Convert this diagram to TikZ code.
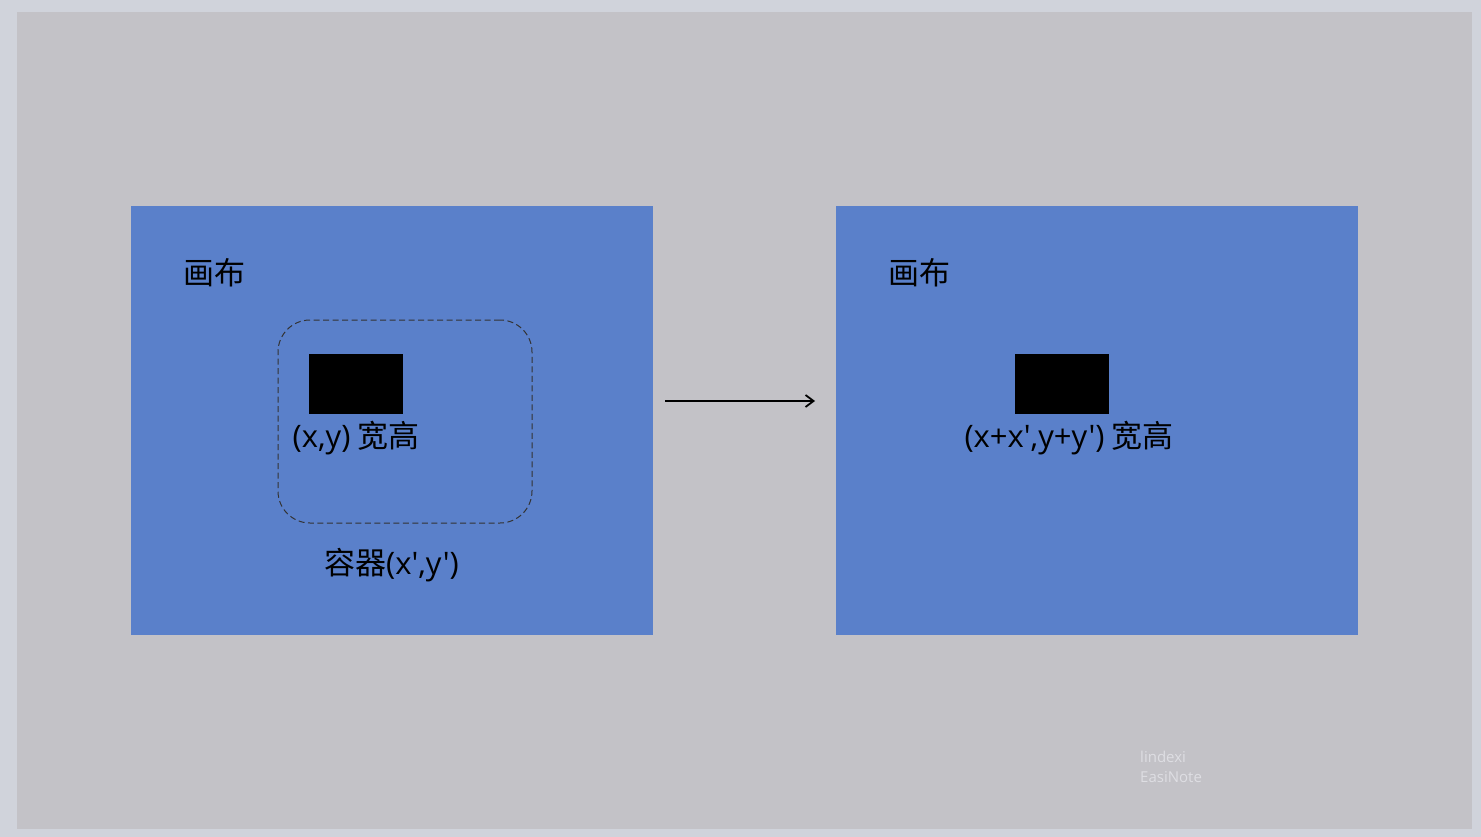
\documentclass[tikz,border=0pt]{standalone}
\usepackage{fontspec}
\setmainfont{Noto Sans CJK SC}
\newfontfamily\cjkf{Noto Sans CJK SC}
\newfontfamily\latf{Open Sans}
\usetikzlibrary{arrows.meta}
\definecolor{outerbg}{HTML}{D0D3DB}
\definecolor{panel}{HTML}{C3C2C7}
\definecolor{canvasblue}{HTML}{5A80CA}
\definecolor{wm}{HTML}{DEDEE3}
\newcommand{\latpart}[1]{{\latf\fontsize{31}{36}\selectfont #1}}
\tikzset{
  canvasbox/.style={fill=canvasblue, draw=none, minimum width=522pt, minimum height=429pt, inner sep=0pt},
  blackbox/.style={fill=black, draw=none, minimum width=94pt, minimum height=60pt, inner sep=0pt},
  lbl/.style={font=\cjkf\fontsize{31}{36}\selectfont, text=black, inner sep=0pt},
  wmtext/.style={font=\latf\fontsize{15}{20}\selectfont, text=wm, inner sep=0pt, anchor=west},
  container/.style={draw=black!80, dash pattern=on 6pt off 3.5pt, line width=1pt, rounded corners=32pt, minimum width=254pt, minimum height=203pt, inner sep=0pt},
  conn/.style={line width=1.8pt, -{Straight Barb[length=8pt, width=12pt]}}
}
\begin{document}
\begin{tikzpicture}[x=1pt, y=-1pt]
\useasboundingbox (0,0) rectangle (1481,837);
\fill[outerbg] (0,0) rectangle (1481,837);
\fill[panel] (17,12) rectangle (1472,829);
\node[canvasbox] (c1) at (392,420.5) {};
\node[canvasbox] (c2) at (1097,420.5) {};
\node[lbl] (t1) at (214.5,272.5) {画布};
\node[lbl] (t2) at (919.5,272.5) {画布};
\node[container] (ct) at (405,421.5) {};
\node[blackbox] (b1) at (356,384) {};
\node[blackbox] (b2) at (1061.5,384) {};
\node[lbl] (l1) at (356,438.5) {\latpart{(x,y)} 宽高};
\node[lbl] (l2) at (1069,438.5) {\latpart{(x+x',y+y')} 宽高};
\node[lbl] (l3) at (391.5,565.5) {容器\latpart{(x',y')}};
\coordinate (a1) at (665,401);
\coordinate (a2) at (815,401);
\draw[conn] (a1) -- (a2);
\node[wmtext] (w1) at (1140,757) {lindexi};
\node[wmtext] (w2) at (1140,777) {EasiNote};
\end{tikzpicture}
\end{document}
